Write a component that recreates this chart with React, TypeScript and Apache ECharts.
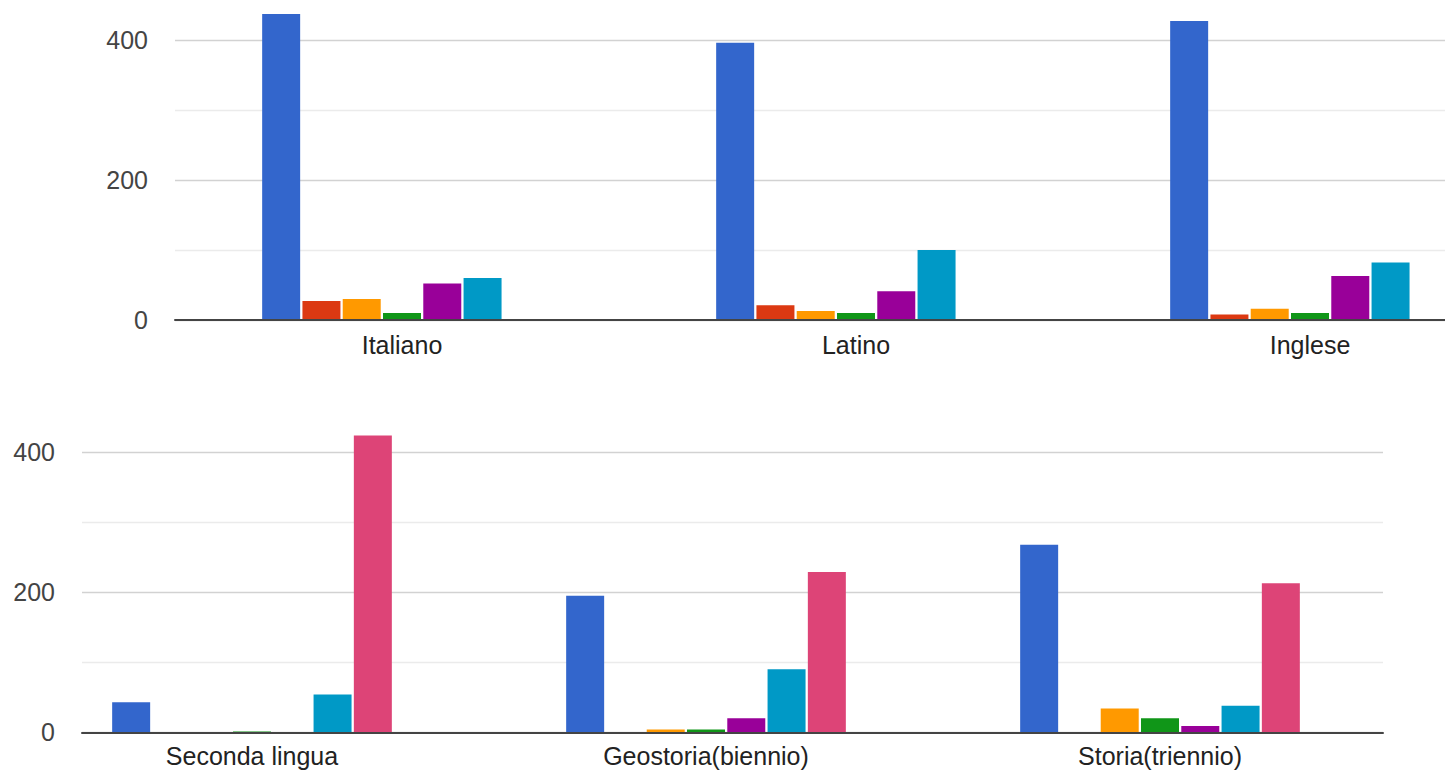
import React, { useEffect, useRef } from "react";
import * as echarts from "echarts";

const topCategories = ["Italiano", "Latino", "Inglese"];
const bottomCategories = ["Seconda lingua", "Geostoria(biennio)", "Storia(triennio)"];

const seriesNames = ["Serie 1", "Serie 2", "Serie 3", "Serie 4", "Serie 5", "Serie 6", "Serie 7"];
const seriesColors = ["#3366cc", "#dc3912", "#ff9900", "#109618", "#990099", "#0099c6", "#dd4477"];

const topS1 = [437, 396, 427];
const topS2 = [27, 21, 8];
const topS3 = [30, 13, 16];
const topS4 = [10, 10, 10];
const topS5 = [52, 41, 63];
const topS6 = [60, 100, 82];
const topS7 = [0, 0, 0];

const bottomS1 = [43, 195, 268];
const bottomS2 = [0, 0, 0];
const bottomS3 = [0, 4, 34];
const bottomS4 = [1, 4, 20];
const bottomS5 = [0, 20, 9];
const bottomS6 = [54, 90, 38];
const bottomS7 = [424, 229, 213];

const yMax = 457;
const yTicks = 100;

const topData = [topS1, topS2, topS3, topS4, topS5, topS6, topS7];
const bottomData = [bottomS1, bottomS2, bottomS3, bottomS4, bottomS5, bottomS6, bottomS7];

const FONT = "Liberation Sans, Arial, sans-serif";

export default function App() {
  const ref = useRef<HTMLDivElement>(null);
  useEffect(() => {
    if (!ref.current) return;
    document.body.style.margin = "0";
    document.body.style.overflow = "hidden";
    const chart = echarts.init(ref.current, undefined, { renderer: "svg" });

    const yAxisBase = (show: boolean, gridIndex: number) => ({
      type: "value",
      gridIndex,
      min: 0,
      max: yMax,
      interval: yTicks,
      show,
      axisLine: { show: false },
      axisTick: { show: false },
      axisLabel: {
        show,
        margin: 27,
        fontSize: 25,
        fontFamily: FONT,
        color: "#444",
        showMaxLabel: false,
        formatter: (v: number) => (v % 200 === 0 ? String(v) : ""),
      },
      splitLine: {
        show,
        showMaxLine: false,
        lineStyle: {
          width: 1.3,
          color: ["#d2d2d2", "#ebebeb", "#d2d2d2", "#ebebeb", "#d2d2d2", "#ebebeb"],
        },
      },
    });

    const series: any[] = [];
    topData.forEach((d, i) => {
      series.push({
        type: "bar",
        name: seriesNames[i],
        xAxisIndex: 0,
        yAxisIndex: 0,
        data: d,
        barWidth: 38,
        barGap: "6%",
        itemStyle: { color: seriesColors[i] },
        z: 3,
      });
    });
    bottomData.forEach((d, i) => {
      series.push({
        type: "bar",
        name: seriesNames[i],
        xAxisIndex: 1,
        yAxisIndex: 1,
        data: d,
        barWidth: 38,
        barGap: "6%",
        itemStyle: { color: seriesColors[i] },
        z: 3,
      });
    });

    chart.setOption({
      animation: false,
      backgroundColor: "#ffffff",
      grid: [
        { left: 175, top: 0, width: 1362, height: 320 },
        { left: 25, top: 412.3, width: 1362, height: 320 },
        { left: 82, top: 412.3, width: 1301, height: 320 },
      ],
      xAxis: [
        {
          type: "category",
          gridIndex: 0,
          data: topCategories,
          axisLine: { show: true, lineStyle: { color: "#444", width: 2 } },
          axisTick: { show: false },
          axisLabel: { margin: 12, fontSize: 25, fontFamily: FONT, color: "#222" },
          z: 5,
        },
        {
          type: "category",
          gridIndex: 1,
          data: bottomCategories,
          axisLine: { show: false },
          axisTick: { show: false },
          axisLabel: { margin: 11, fontSize: 25, fontFamily: FONT, color: "#222" },
        },
        {
          type: "value",
          gridIndex: 2,
          min: 0,
          max: 1,
          axisLine: { show: true, lineStyle: { color: "#444", width: 2 } },
          axisTick: { show: false },
          axisLabel: { show: false },
          splitLine: { show: false },
          z: 5,
        },
      ],
      yAxis: [yAxisBase(true, 0), yAxisBase(false, 1), yAxisBase(true, 2)],
      series,
    });

    return () => chart.dispose();
  }, []);

  return (
    <div
      ref={ref}
      style={{ position: "fixed", left: 0, top: 0, width: 1545, height: 772, background: "#fff" }}
    />
  );
}
